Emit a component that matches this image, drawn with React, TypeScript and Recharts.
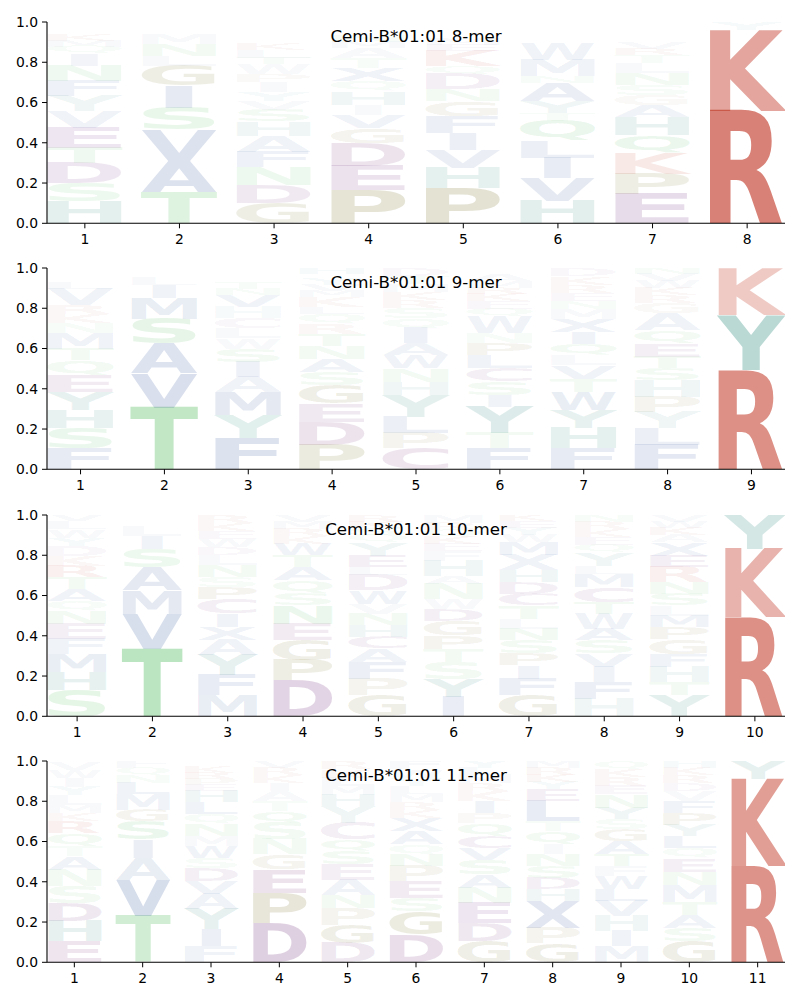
import { BarChart, Bar, XAxis, YAxis } from 'recharts'

// letters per position, bottom to top, with their frequencies
const mer8Letters = [
  'HSDTEVYFNIQMKWARC', 'TAVSIGLNMKYW', 'GDNFAHSVYIPWTLKERMQC', 'PEDGVIHQXTAMNRWS',
  'PHVIFGNDQKEMWRSL', 'HVILQTYANMWERKSF', 'EPKQHAGSNLTRVYFMD', 'RKY',
]
const mer8Heights = [
  [0.11, 0.09, 0.1, 0.075, 0.1, 0.083, 0.075, 0.075, 0.075, 0.06, 0.035, 0.03, 0.03, 0.025, 0.02, 0.01, 0.007],
  [0.155, 0.155, 0.155, 0.11, 0.108, 0.1, 0.05, 0.058, 0.05, 0.02, 0.02, 0.019],
  [0.1, 0.09, 0.09, 0.075, 0.08, 0.07, 0.058, 0.045, 0.045, 0.05, 0.04, 0.05, 0.03, 0.04, 0.03, 0.025, 0.02, 0.025, 0.02, 0.017],
  [0.163, 0.12, 0.116, 0.075, 0.066, 0.05, 0.066, 0.05, 0.066, 0.05, 0.05, 0.03, 0.03, 0.025, 0.02, 0.023],
  [0.176, 0.1, 0.09, 0.083, 0.083, 0.075, 0.058, 0.075, 0.04, 0.075, 0.03, 0.03, 0.025, 0.02, 0.02, 0.02],
  [0.113, 0.113, 0.1, 0.083, 0.1, 0.04, 0.058, 0.09, 0.033, 0.083, 0.083, 0.02, 0.02, 0.02, 0.02, 0.02],
  [0.146, 0.1, 0.103, 0.09, 0.09, 0.058, 0.05, 0.05, 0.058, 0.05, 0.04, 0.03, 0.03, 0.025, 0.025, 0.025, 0.025],
  [0.56, 0.4, 0.04],
]

const mer9Letters = [
  'FSHYEQTMNKRVLAWD', 'TVASMILQNG', 'FYMAISWLCHVNTQRK', 'PDEGSANTRQLKMVYWH', 'CPLYHNWAIQSRKMTD',
  'FTYISCLPNWQEKRMAHV', 'FHYWTVLQIXMNERKD', 'FLYPHSTEQAGRKWVN', 'RYK',
]
const mer9Heights = [
  [0.104, 0.1, 0.09, 0.09, 0.083, 0.075, 0.058, 0.075, 0.05, 0.045, 0.045, 0.083, 0.03, 0.025, 0.025, 0.02],
  [0.307, 0.169, 0.149, 0.124, 0.1, 0.066, 0.04, 0.015, 0.015, 0.015],
  [0.154, 0.116, 0.116, 0.074, 0.074, 0.066, 0.05, 0.05, 0.053, 0.055, 0.058, 0.03, 0.03, 0.025, 0.025, 0.024],
  [0.12, 0.116, 0.09, 0.09, 0.066, 0.066, 0.066, 0.058, 0.05, 0.05, 0.033, 0.05, 0.03, 0.03, 0.03, 0.025, 0.03],
  [0.104, 0.075, 0.083, 0.107, 0.066, 0.066, 0.066, 0.058, 0.074, 0.05, 0.05, 0.04, 0.04, 0.04, 0.04, 0.04],
  [0.104, 0.075, 0.132, 0.058, 0.066, 0.066, 0.066, 0.058, 0.05, 0.083, 0.04, 0.04, 0.035, 0.03, 0.03, 0.03, 0.02, 0.017],
  [0.104, 0.1, 0.09, 0.09, 0.066, 0.066, 0.05, 0.058, 0.058, 0.066, 0.05, 0.04, 0.04, 0.04, 0.04, 0.04],
  [0.12, 0.083, 0.083, 0.075, 0.083, 0.058, 0.058, 0.066, 0.066, 0.083, 0.05, 0.04, 0.035, 0.035, 0.035, 0.03],
  [0.493, 0.273, 0.234],
]

const mer10Letters = [
  'SHMFENQATRKDYWLV', 'TVMASILQNG', 'MFYAXICPSNLDWEKR', 'DPGENSQATWKRMV', 'GPFACHNVWDLEYQSKR',
  'IYSTPGDWNAHFEKQRM', 'GFIPSNLTCDHXMWYEK', 'HFIVSAWTCMLYQEKRN', 'YTHFGPMLSNREXAKWV', 'RKY',
]
const mer10Heights = [
  [0.13, 0.09, 0.09, 0.074, 0.074, 0.066, 0.05, 0.058, 0.058, 0.058, 0.05, 0.05, 0.04, 0.04, 0.04, 0.032],
  [0.335, 0.174, 0.116, 0.116, 0.09, 0.066, 0.05, 0.02, 0.02, 0.013],
  [0.104, 0.1, 0.1, 0.074, 0.066, 0.066, 0.074, 0.058, 0.05, 0.058, 0.05, 0.04, 0.04, 0.04, 0.04, 0.04],
  [0.178, 0.1, 0.1, 0.083, 0.09, 0.058, 0.066, 0.066, 0.058, 0.058, 0.04, 0.035, 0.035, 0.033],
  [0.104, 0.083, 0.083, 0.066, 0.058, 0.058, 0.058, 0.05, 0.066, 0.074, 0.04, 0.058, 0.066, 0.035, 0.035, 0.033, 0.033],
  [0.096, 0.09, 0.083, 0.066, 0.066, 0.074, 0.058, 0.05, 0.074, 0.04, 0.074, 0.05, 0.035, 0.035, 0.035, 0.035, 0.037],
  [0.104, 0.083, 0.066, 0.058, 0.066, 0.058, 0.05, 0.066, 0.058, 0.058, 0.058, 0.074, 0.066, 0.035, 0.035, 0.033, 0.033],
  [0.088, 0.083, 0.074, 0.066, 0.066, 0.058, 0.074, 0.058, 0.074, 0.066, 0.04, 0.066, 0.04, 0.04, 0.035, 0.035, 0.035],
  [0.104, 0.066, 0.074, 0.066, 0.074, 0.058, 0.058, 0.05, 0.058, 0.058, 0.074, 0.058, 0.066, 0.035, 0.035, 0.033, 0.033],
  [0.493, 0.339, 0.168],
]

const mer11Letters = [
  'EHDSNATQRKMLYIWV', 'TVAISGMLNQF', 'FIYAVDSWMNQLHEPRKG', 'DPEGNSQTAIKRV', 'DGPNAESQCYHMLKR',
  'DGSEPNQAXKRMLYWF', 'GDENASVCQPIKRMLY', 'GPXHDSNIQTLEYKRM', 'MIHVLWFTAGSYNERKQ',
  'GSATMNEQLYPFVDRKH', 'RKY',
]
const mer11Heights = [
  [0.104, 0.1, 0.09, 0.083, 0.083, 0.066, 0.05, 0.066, 0.058, 0.04, 0.04, 0.05, 0.042, 0.042, 0.041, 0.041],
  [0.229, 0.182, 0.108, 0.091, 0.091, 0.058, 0.075, 0.058, 0.036, 0.036, 0.036],
  [0.08, 0.083, 0.1, 0.075, 0.066, 0.066, 0.05, 0.058, 0.05, 0.058, 0.05, 0.058, 0.058, 0.03, 0.03, 0.03, 0.03, 0.022],
  [0.196, 0.149, 0.116, 0.075, 0.075, 0.083, 0.058, 0.05, 0.05, 0.04, 0.04, 0.035, 0.034],
  [0.096, 0.09, 0.083, 0.066, 0.075, 0.075, 0.066, 0.058, 0.083, 0.083, 0.058, 0.042, 0.042, 0.041, 0.041],
  [0.138, 0.116, 0.066, 0.083, 0.075, 0.058, 0.05, 0.066, 0.066, 0.04, 0.04, 0.04, 0.04, 0.04, 0.04, 0.042],
  [0.104, 0.09, 0.1, 0.075, 0.066, 0.075, 0.058, 0.058, 0.066, 0.05, 0.058, 0.05, 0.04, 0.04, 0.035, 0.035],
  [0.096, 0.075, 0.133, 0.058, 0.058, 0.058, 0.058, 0.05, 0.066, 0.05, 0.1, 0.058, 0.035, 0.035, 0.035, 0.035],
  [0.08, 0.075, 0.075, 0.075, 0.058, 0.066, 0.05, 0.058, 0.066, 0.058, 0.05, 0.058, 0.066, 0.042, 0.042, 0.041, 0.041],
  [0.104, 0.066, 0.066, 0.066, 0.083, 0.066, 0.066, 0.05, 0.058, 0.058, 0.058, 0.058, 0.05, 0.04, 0.04, 0.035, 0.035],
  [0.478, 0.431, 0.091],
]

const titles = ['Cemi-B*01:01 8-mer', 'Cemi-B*01:01 9-mer', 'Cemi-B*01:01 10-mer', 'Cemi-B*01:01 11-mer']

// base colours per residue group, drawn with opacity = frequency
const RED = 'rgb(185,30,10)'
const TEAL = 'rgb(3,115,99)'
const PURPLE = 'rgb(92,14,103)'
const OLIVE = 'rgb(100,90,0)'
const GREEN = 'rgb(52,178,65)'
const BLUE = 'rgb(29,68,145)'
const COLORS: Record<string, string> = {
  R: RED, K: RED, H: TEAL, Y: TEAL, D: PURPLE, E: PURPLE, C: PURPLE, P: OLIVE, G: OLIVE,
  S: GREEN, T: GREEN, N: GREEN, Q: GREEN,
  A: BLUE, V: BLUE, L: BLUE, I: BLUE, M: BLUE, F: BLUE, W: BLUE, X: BLUE,
}

// DejaVu Sans Bold: left bearing and ink width as fractions of the advance
const GLYPH: Record<string, [number, number]> = {
  A: [0.01, 0.98], C: [0.075, 0.843], D: [0.109, 0.83], E: [0.133, 0.766], F: [0.133, 0.766],
  G: [0.067, 0.864], H: [0.109, 0.783], I: [0.244, 0.512], K: [0.117, 0.89], L: [0.143, 0.815],
  M: [0.091, 0.817], N: [0.109, 0.783], P: [0.124, 0.82], Q: [0.065, 0.87], R: [0.118, 0.878],
  S: [0.085, 0.832], T: [0.021, 0.958], V: [0.01, 0.98], W: [0.022, 0.957], X: [0.038, 0.93],
  Y: [0.01, 0.98],
}
// glyphs narrower than E are not stretched past E's stretch
const NARROW: Record<string, number> = { I: 0.364, L: 0.99 }

function vmetrics(l: string): [number, number] {
  if (l === 'Q') return [-0.16, 0.742]
  if ('CGOS'.includes(l)) return [-0.014, 0.742]
  return [0, 0.729]
}

const PLOT_W = 738
const PLOT_H = 201.3
const tops = [22, 268.3, 514.6, 761]
const FONT = 'DejaVu Sans'

function Glyph(props: any) {
  const { x, y, width, height, letter, w: fullW, value } = props
  if (!letter || !(height > 0)) return <g />
  const w = fullW * (NARROW[letter] ?? 1)
  const [lsb, ink] = GLYPH[letter] ?? [0.1, 0.8]
  const L = w / ink
  const x0 = x + width / 2 - w / 2 - L * lsb
  const [bot, top] = vmetrics(letter)
  const F = 100
  const sy = height / ((top - bot) * F)
  const ty = y + height + sy * bot * F
  const v = Array.isArray(value) ? value[1] - value[0] : value
  return (
    <text
      x={0}
      y={0}
      fontSize={F}
      fontFamily={FONT}
      fontWeight='bold'
      fill={COLORS[letter] ?? BLUE}
      fillOpacity={Math.min(1, Math.max(0.02, v))}
      textLength={L}
      lengthAdjust='spacingAndGlyphs'
      transform={`translate(${x0},${ty}) scale(1,${sy})`}
    >
      {letter}
    </text>
  )
}

function LogoPanel({ letters, heights, title, top }: { letters: string[]; heights: number[][]; title: string; top: number }) {
  const n = letters.length
  const layers = Math.max(...letters.map((s) => s.length))
  const data = letters.map((s, i) => {
    const row: Record<string, number> = { pos: i + 1 }
    for (let k = 0; k < layers; k++) row[`h${k}`] = heights[i][k] ?? 0
    return row
  })
  const slot = PLOT_W / (n - 0.2)
  const w = slot * 0.78
  const ticks = letters.map((_, i) => i + 1)
  const tickStyle = { fill: '#000', fontSize: 13.9, fontFamily: FONT }
  return (
    <div style={{ position: 'absolute', left: 0, top: top - 10, width: 800, height: 250 }}>
      <BarChart width={800} height={250} data={data} margin={{ top: 10, right: 15, left: 0, bottom: 250 - 10 - PLOT_H - 30 }}>
        <XAxis
          dataKey='pos'
          type='number'
          domain={[0.6, n + 0.4]}
          allowDataOverflow
          ticks={ticks}
          interval={0}
          height={30}
          tick={tickStyle}
          tickSize={5}
          tickMargin={6}
          axisLine={{ stroke: '#000', strokeWidth: 1.1 }}
          tickLine={{ stroke: '#000' }}
        />
        <YAxis
          type='number'
          domain={[0, 1]}
          allowDataOverflow
          ticks={[0, 0.2, 0.4, 0.6, 0.8, 1]}
          tickFormatter={(v: number) => v.toFixed(1)}
          width={47}
          tick={tickStyle}
          tickSize={5}
          tickMargin={4}
          axisLine={{ stroke: '#000', strokeWidth: 1.1 }}
          tickLine={{ stroke: '#000' }}
        />
        {Array.from({ length: layers }, (_, k) => (
          <Bar
            key={k}
            dataKey={`h${k}`}
            stackId='logo'
            barSize={w}
            isAnimationActive={false}
            shape={(p: any) => <Glyph {...p} w={w} letter={letters[p.payload.pos - 1][k]} />}
          />
        ))}
      </BarChart>
      <svg width={800} height={250} style={{ position: 'absolute', left: 0, top: 0, pointerEvents: 'none' }}>
        <text x={416} y={10 + 20} textAnchor='middle' fontFamily={FONT} fontSize={16.67} fill='#000'>
          {title}
        </text>
      </svg>
    </div>
  )
}

export default function App() {
  const panels = [
    [mer8Letters, mer8Heights],
    [mer9Letters, mer9Heights],
    [mer10Letters, mer10Heights],
    [mer11Letters, mer11Heights],
  ] as const
  return (
    <div style={{ position: 'absolute', left: 0, top: 0, width: 800, height: 1000, background: '#fff' }}>
      {panels.map(([letters, heights], i) => (
        <LogoPanel key={i} letters={letters as any} heights={heights as any} title={titles[i]} top={tops[i]} />
      ))}
    </div>
  )
}
